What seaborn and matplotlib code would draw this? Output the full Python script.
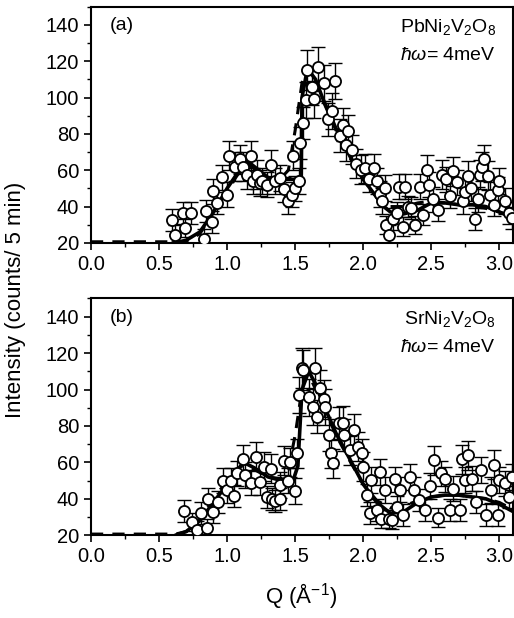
import numpy as np
import pandas as pd
import matplotlib
matplotlib.use("Agg")
from matplotlib import pyplot as plt
from matplotlib.ticker import MultipleLocator, FormatStrFormatter
import seaborn as sns

# ---- panel (a): PbNi2V2O8 ----
q_a = [0.593, 0.618, 0.674, 0.69, 0.733, 0.83, 0.843, 0.887, 0.90, 0.924, 0.96, 0.998,
       1.017, 1.059, 1.096, 1.12, 1.145, 1.174, 1.189, 1.218, 1.24, 1.255, 1.29, 1.32,
       1.35, 1.39, 1.42, 1.45, 1.475, 1.483, 1.50, 1.525, 1.532, 1.56, 1.58, 1.59,
       1.62, 1.64, 1.67, 1.71, 1.74, 1.77, 1.79, 1.83, 1.85, 1.87, 1.89, 1.92, 1.95,
       1.98, 2.01, 2.04, 2.08, 2.10, 2.12, 2.14, 2.16, 2.17, 2.19, 2.22, 2.25, 2.26,
       2.29, 2.31, 2.33, 2.35, 2.38, 2.42, 2.44, 2.47, 2.48, 2.51, 2.55, 2.58, 2.61,
       2.64, 2.66, 2.69, 2.73, 2.75, 2.77, 2.79, 2.82, 2.84, 2.86, 2.87, 2.89, 2.92,
       2.93, 2.96, 2.99, 3.0, 3.04, 3.07, 3.09]
int_a = [32.8, 24.6, 36.5, 28.3, 36.5, 22.4, 37.4, 31.4, 48.4, 42, 56, 46.6,
         68, 62, 66, 62, 57.6, 68, 54, 57.6, 53, 54, 52, 63,
         54, 55.8, 49.4, 43, 46.6, 68, 50, 54, 75, 86, 98.5, 115,
         106, 99, 117, 108, 88, 92.5, 109, 79, 85, 74, 81.5, 71.4, 63.7,
         60.4, 61, 55, 61, 54, 47, 43, 50.3, 30, 24.6, 33, 36.5, 51,
         29, 51, 40, 39, 30, 51, 35.6, 60.4, 52, 44, 38, 57.6, 55,
         46, 59.4, 53.4, 43, 48, 57, 50.3, 33, 44, 57.6, 62, 66, 57,
         46.6, 41, 49, 54, 43, 36.5, 33.8]
err_a = [6, 5, 6, 5, 6, 5, 6, 6, 7, 6, 7, 7,
         8, 8, 8, 8, 8, 8, 7, 8, 7, 7, 7, 8,
         7, 7, 7, 7, 7, 8, 7, 7, 9, 9, 10, 11,
         10, 10, 11, 10, 9, 10, 10, 9, 9, 9, 9, 8, 8,
         8, 8, 7, 8, 7, 7, 7, 7, 5, 5, 6, 6, 7,
         5, 7, 6, 6, 5, 7, 6, 8, 7, 7, 6, 8, 7,
         7, 8, 7, 7, 7, 8, 7, 6, 7, 8, 8, 8, 8,
         7, 6, 7, 7, 7, 6, 6]

fit_q_a = [0.6, 0.65, 0.7, 0.8, 0.9, 1.0, 1.1, 1.15, 1.2, 1.3, 1.4, 1.5, 1.545, 1.55,
           1.58, 1.6, 1.65, 1.7, 1.8, 1.9, 2.0, 2.1, 2.15, 2.2, 2.3, 2.4, 2.5, 2.6, 2.7,
           2.8, 2.9, 3.0, 3.1]
fit_i_a = [20, 20.5, 21.5, 26, 37, 50, 61, 65, 62, 56, 55, 55, 57, 100,
           112, 115, 110, 100, 83, 68, 55, 45, 40, 37, 36, 38, 42, 42, 41,
           41, 40, 37, 34]
dash_q_a = [0, 0.6, 0.7, 0.8, 0.9, 1.0, 1.1, 1.15, 1.2, 1.3, 1.4, 1.45, 1.5, 1.55, 1.58,
            1.6, 1.65, 1.7, 1.8, 1.9, 2.0, 2.1, 2.2, 2.3, 2.4, 2.5, 2.6, 2.7, 2.8, 2.9,
            3.0, 3.1]
dash_i_a = [20.6, 20.6, 21, 25, 37, 49, 60, 63, 61, 56, 56, 60, 82, 108, 117,
            114, 107, 99, 82, 67, 55, 45, 40, 40, 42, 43, 42, 41, 40, 39,
            37, 34]

# ---- panel (b): SrNi2V2O8 ----
q_b = [0.684, 0.74, 0.777, 0.81, 0.85, 0.86, 0.90, 0.93, 0.97, 1.0, 1.03, 1.05, 1.07,
       1.115, 1.13, 1.174, 1.213, 1.24, 1.27, 1.29, 1.32, 1.33, 1.35, 1.385, 1.39,
       1.42, 1.45, 1.46, 1.50, 1.517, 1.525, 1.55, 1.56, 1.60, 1.63, 1.647, 1.66,
       1.68, 1.71, 1.72, 1.745, 1.76, 1.78, 1.82, 1.855, 1.86, 1.90, 1.93, 1.965,
       1.99, 2.0, 2.03, 2.05, 2.06, 2.10, 2.12, 2.13, 2.16, 2.19, 2.21, 2.235, 2.25,
       2.27, 2.29, 2.345, 2.375, 2.41, 2.455, 2.49, 2.52, 2.55, 2.57, 2.60, 2.64,
       2.66, 2.71, 2.725, 2.75, 2.77, 2.80, 2.83, 2.865, 2.90, 2.94, 2.96, 2.99,
       3.0, 3.04, 3.07, 3.09]
int_b = [33.2, 27.3, 23, 32, 23.7, 40, 32.8, 38, 50, 44.7, 50, 41.4, 54,
         61.8, 53, 48.8, 63, 49.3, 57.6, 41, 56.6, 40, 39, 40, 47.5,
         61, 50, 60, 44.4, 65, 97, 111.6, 110.7, 95.7, 90.5, 112, 85,
         100.6, 95, 90.5, 75, 65, 59.4, 81.4, 81.7, 75, 66.7, 77.7, 68.5,
         65, 57.6, 42, 32, 50.2, 34, 54.8, 29, 44.7, 29, 28.6, 50.6, 35.6,
         45, 31, 52, 44.7, 39.2, 33.7, 47, 61.2, 29.7, 54, 50.6, 34,
         45.6, 33.7, 61.6, 50.2, 64, 51, 38.3, 55.7, 31, 44.7, 58.8, 31,
         50.2, 48.4, 41, 52]
err_b = [6, 5, 5, 6, 5, 6, 6, 6, 7, 7, 7, 6, 7,
         8, 7, 7, 8, 7, 8, 6, 8, 6, 6, 6, 7,
         8, 7, 8, 7, 8, 10, 11, 11, 10, 10, 11, 9,
         10, 10, 10, 9, 8, 8, 9, 9, 9, 8, 9, 8,
         8, 8, 6, 6, 7, 6, 7, 5, 7, 5, 5, 7, 6,
         7, 6, 7, 7, 6, 6, 7, 8, 5, 7, 7, 6,
         7, 6, 8, 7, 8, 7, 6, 7, 6, 7, 8, 6,
         7, 7, 6, 7]

fit_q_b = [0.62, 0.7, 0.8, 0.9, 1.0, 1.1, 1.12, 1.2, 1.3, 1.4, 1.48, 1.52, 1.55, 1.6,
           1.65, 1.7, 1.8, 1.9, 2.0, 2.1, 2.2, 2.3, 2.4, 2.5, 2.6, 2.7, 2.8, 2.9, 3.0, 3.1]
fit_i_b = [20, 22, 28, 38, 48, 58, 60, 57, 52, 50, 49, 58, 100, 110,
           103, 93, 76, 62, 48, 38, 32, 33, 38, 41, 42, 42, 41, 40, 37, 33]
dash_q_b = [0, 0.62, 0.7, 0.8, 0.9, 1.0, 1.1, 1.2, 1.3, 1.4, 1.45, 1.5, 1.55, 1.58, 1.62,
            1.7, 1.8, 1.9, 2.0, 2.1, 2.2, 2.3, 2.4, 2.5, 2.6, 2.7, 2.8, 2.9, 3.0, 3.1]
dash_i_b = [20.6, 20.6, 22, 29, 40, 50, 58, 56, 52, 51, 56, 75, 100, 108, 105,
            92, 75, 61, 48, 39, 35, 36, 39, 41, 42, 42, 41, 40, 38, 34]

sns.set_style("ticks")
plt.rcParams['font.family'] = ['Liberation Sans', 'DejaVu Sans']
plt.rcParams['mathtext.fontset'] = 'custom'
plt.rcParams['mathtext.rm'] = 'Liberation Sans'
plt.rcParams['mathtext.it'] = 'Liberation Sans:italic'
plt.rcParams['mathtext.bf'] = 'Liberation Sans:bold'
for key in ['text.color', 'axes.labelcolor', 'xtick.color', 'ytick.color', 'axes.edgecolor']:
    plt.rcParams[key] = 'black'

fig = plt.figure(figsize=(5.14, 6.18), dpi=100)
ax_a = fig.add_axes([0.177, 0.607, 0.821, 0.382])
ax_b = fig.add_axes([0.177, 0.134, 0.821, 0.383])


def draw_panel(ax, q, inten, err, fq, fi, dq, di, tag, compound):
    pts = pd.DataFrame({'Q': q, 'I': inten})
    ax.errorbar(q, inten, yerr=err, fmt='none', ecolor='black', elinewidth=1.0,
                capsize=5, capthick=1.0, zorder=2)
    sns.lineplot(x=dq, y=di, ax=ax, color='black', lw=2.2, linestyle=(0, (4, 3)),
                 estimator=None, sort=False, zorder=3)
    sns.lineplot(x=fq, y=fi, ax=ax, color='black', lw=2.6,
                 estimator=None, sort=False, zorder=3)
    sns.scatterplot(data=pts, x='Q', y='I', ax=ax, s=64, marker='o',
                    facecolor='white', edgecolor='black', linewidth=1.3, zorder=4)
    ax.set_xlim(0, 3.1)
    ax.set_ylim(20, 150)
    ax.xaxis.set_major_locator(MultipleLocator(0.5))
    ax.xaxis.set_minor_locator(MultipleLocator(0.25))
    ax.yaxis.set_minor_locator(MultipleLocator(10))
    ax.set_yticks([20, 40, 60, 80, 100, 120, 140])
    ax.xaxis.set_major_formatter(FormatStrFormatter('%.1f'))
    ax.tick_params(which='major', direction='out', length=5, width=1.2, labelsize=14.5,
                   top=False, right=False)
    ax.tick_params(which='minor', direction='out', length=3, width=1.0,
                   top=False, right=False)
    for sp in ax.spines.values():
        sp.set_linewidth(1.5)
        sp.set_visible(True)
    ax.set_xlabel('')
    ax.set_ylabel('')
    ax.text(0.045, 0.955, tag, transform=ax.transAxes, fontsize=14, va='top', ha='left')
    ax.text(0.96, 0.955, compound, transform=ax.transAxes, fontsize=14,
            va='top', ha='right')
    ax.text(0.96, 0.83, r'$\hbar\omega$= 4meV', transform=ax.transAxes, fontsize=14,
            va='top', ha='right')


draw_panel(ax_a, q_a, int_a, err_a, fit_q_a, fit_i_a, dash_q_a, dash_i_a,
           '(a)', r'PbNi$_2$V$_2$O$_8$')
draw_panel(ax_b, q_b, int_b, err_b, fit_q_b, fit_i_b, dash_q_b, dash_i_b,
           '(b)', r'SrNi$_2$V$_2$O$_8$')

fig.text(0.585, 0.035, r'Q (Å$^{\mathrm{-1}}$)', fontsize=16, ha='center', va='center')
fig.text(0.03, 0.515, 'Intensity (counts/ 5 min)', fontsize=16, rotation=90,
         ha='center', va='center')

fig.savefig('out.png', dpi=100)
